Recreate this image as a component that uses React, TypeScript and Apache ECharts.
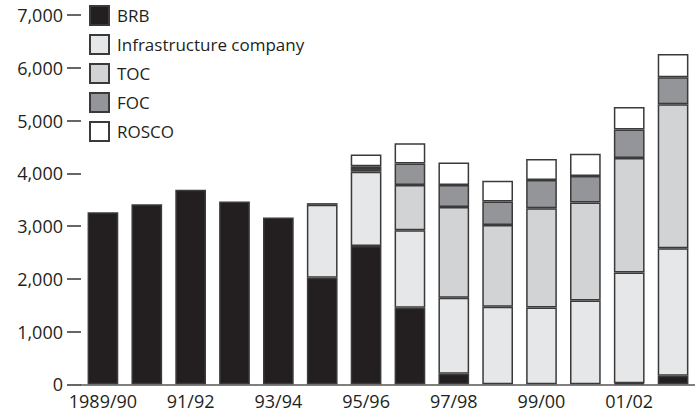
import React, { useEffect, useRef } from "react";
import * as echarts from "echarts";

const categories = [
  "1989/90", "90/91", "91/92", "92/93", "93/94", "94/95", "95/96",
  "96/97", "97/98", "98/99", "99/00", "00/01", "01/02", "02/03",
];
const brb = [3260, 3415, 3690, 3465, 3160, 2020, 2620, 1450, 200, null, null, null, 20, 160];
const infra = [null, null, null, null, null, 1382, 1410, 1470, 1440, 1470, 1455, 1590, 2100, 2420];
const toc = [null, null, null, null, null, null, 50, 857, 1720, 1550, 1880, 1854, 2170, 2730];
const foc = [null, null, null, null, null, 32, 53, 406, 419, 446, 539, 502, 539, 508];
const rosco = [null, null, null, null, null, null, 221, 388, 425, 393, 395, 425, 427, 444];
const yTicks = [0, 1000, 2000, 3000, 4000, 5000, 6000, 7000];

const FONT = "'Open Sans', sans-serif";
const TEXT = "#231f20";
const BORDER = "#3a3a3a";

export default function App() {
  const ref = useRef<HTMLDivElement>(null);
  useEffect(() => {
    document.body.style.margin = "0";
    const chart = echarts.init(ref.current!, null, { renderer: "svg" });
    const mk = (name: string, data: (number | null)[], color: string) => ({
      name,
      type: "bar",
      stack: "total",
      data,
      barWidth: "70%",
      itemStyle: { color, borderColor: BORDER, borderWidth: 1.5 },
    });
    chart.setOption({
      animation: false,
      textStyle: { fontFamily: FONT },
      grid: { left: 81, top: 15, width: 620, bottom: 33.7, containLabel: false },
      legend: {
        orient: "vertical",
        left: 89,
        top: 5,
        padding: 0,
        itemWidth: 19,
        itemHeight: 19,
        itemGap: 8,
        icon: "rect",
        textStyle: { fontSize: 17, color: TEXT, fontFamily: FONT, padding: [0, 0, 0, 3] },
        data: ["BRB", "Infrastructure company", "TOC", "FOC", "ROSCO"],
      },
      xAxis: {
        type: "category",
        data: categories,
        axisLine: { show: true, lineStyle: { color: "#555", width: 1.5 } },
        axisTick: { show: false },
        axisLabel: { interval: 1, fontSize: 18, color: TEXT, fontFamily: FONT, margin: 8 },
      },
      yAxis: {
        type: "value",
        min: yTicks[0],
        max: yTicks[yTicks.length - 1],
        interval: 1000,
        splitLine: { show: false },
        axisLine: { show: false },
        axisTick: { show: true, length: 14, lineStyle: { color: "#333", width: 1.5 } },
        axisLabel: {
          fontSize: 18,
          color: TEXT,
          fontFamily: FONT,
          margin: 18,
          formatter: (v: number) => v.toLocaleString("en-US"),
        },
      },
      series: [
        mk("BRB", brb, "#231f20"),
        mk("Infrastructure company", infra, "#e6e7e8"),
        mk("TOC", toc, "#d1d3d4"),
        mk("FOC", foc, "#939598"),
        mk("ROSCO", rosco, "#ffffff"),
      ],
    });
    return () => chart.dispose();
  }, []);
  return <div ref={ref} style={{ width: 695, height: 418 }} />;
}
